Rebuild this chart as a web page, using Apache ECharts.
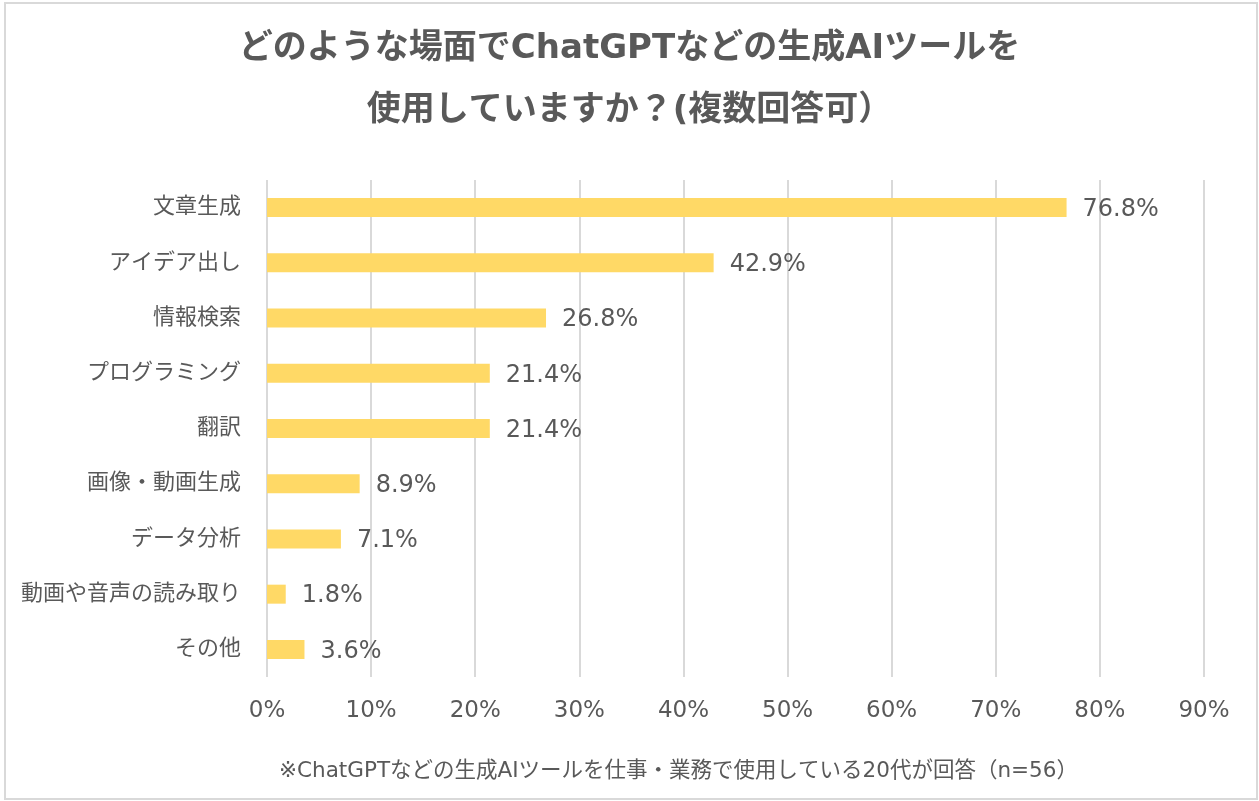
<!DOCTYPE html>
<html lang="ja">
<head>
  <meta charset="UTF-8">
  <title>生成AIツールの使用場面</title>
  <style>
    html, body { margin: 0; padding: 0; background: #fff; }
    #chart { width: 1259px; height: 801px; }
  </style>
</head>
<body>
  <div id="chart"></div>
</body>
</html>
<script src="https://cdn.jsdelivr.net/npm/echarts@6/dist/echarts.min.js"></script>
<script type="text/javascript">
  // データ
  var categories = ['文章生成', 'アイデア出し', '情報検索', 'プログラミング', '翻訳', '画像・動画生成', 'データ分析', '動画や音声の読み取り', 'その他'];
  var values = [76.8, 42.9, 26.8, 21.4, 21.4, 8.9, 7.1, 1.8, 3.6];
  var titleLines = ['どのような場面でChatGPTなどの生成AIツールを', '使用していますか？(複数回答可）'];
  var note = '※ChatGPTなどの生成AIツールを仕事・業務で使用している20代が回答（n=56）';

  // 欧文は幅広のDejaVu、和文はNoto CJK
  var font = '"DejaVu Sans", "Noto Sans CJK JP", sans-serif';
  var textColor = '#595959';

  var myChart = echarts.init(document.getElementById('chart'));

  var option = {
    backgroundColor: '#fff',
    textStyle: { fontFamily: font },
    title: [
      {
        text: titleLines[0],
        left: 'center',
        top: 27,
        textStyle: { fontSize: 34, fontWeight: 'bold', color: textColor, fontFamily: font }
      },
      {
        text: titleLines[1],
        left: 'center',
        top: 89,
        textStyle: { fontSize: 34, fontWeight: 'bold', color: textColor, fontFamily: font }
      },
      {
        text: note,
        left: 274,
        top: 756,
        textStyle: { fontSize: 21.5, fontWeight: 'normal', color: textColor, fontFamily: font }
      }
    ],
    graphic: [{
      type: 'rect',
      shape: { x: 5, y: 3, width: 1252, height: 796 },
      style: { fill: 'none', stroke: '#d9d9d9', lineWidth: 2 },
      silent: true
    }],
    grid: {
      left: 267,
      right: 55,
      top: 180,
      bottom: 124,
      containLabel: false
    },
    xAxis: {
      type: 'value',
      min: 0,
      max: 90,
      interval: 10,
      axisLine: { show: false },
      axisTick: { show: false },
      splitLine: { show: true, lineStyle: { color: '#d9d9d9', width: 2 } },
      axisLabel: {
        formatter: '{value}%',
        color: textColor,
        fontSize: 23,
        margin: 23,
        fontFamily: font
      }
    },
    yAxis: {
      type: 'category',
      data: categories,
      inverse: true,
      axisLine: { show: false },
      axisTick: { show: false },
      axisLabel: {
        color: textColor,
        fontSize: 22,
        margin: 26,
        fontFamily: font
      }
    },
    series: [{
      type: 'bar',
      data: values,
      barWidth: 19,
      itemStyle: { color: '#FFD966' },
      label: {
        show: true,
        position: 'right',
        distance: 16,
        offset: [0, 2],
        color: textColor,
        fontSize: 24,
        fontFamily: font,
        formatter: function (p) { return p.value.toFixed(1) + '%'; }
      }
    }]
  };

  myChart.setOption(option);
</script>
